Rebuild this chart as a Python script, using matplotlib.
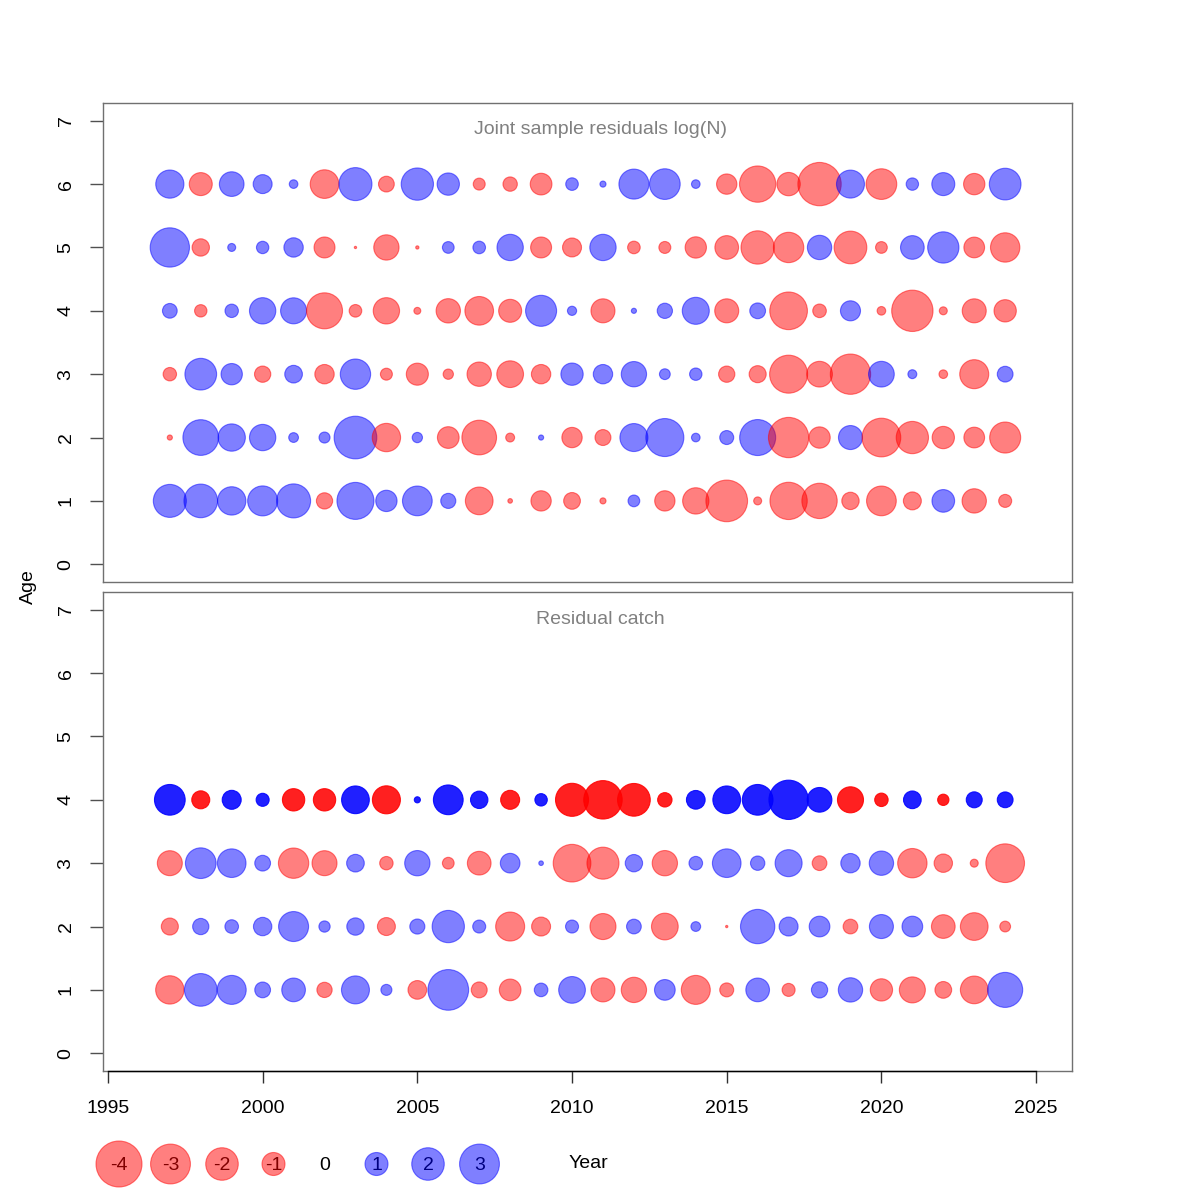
import numpy as np
import matplotlib
matplotlib.use('Agg')
import matplotlib.pyplot as plt
from matplotlib.colors import to_rgba

plt.rcParams['font.family'] = ['Liberation Sans', 'DejaVu Sans']

# Datos
years = list(range(1997, 2025))

# Joint sample residuals log(N), edades 1..6
ages_n = [1, 2, 3, 4, 5, 6]
res_n_age1 = [2.06, 2.14, 1.52, 1.70, 2.19, -0.50, 2.59, 0.86, 1.67, 0.43, -1.45, -0.04, -0.78, -0.53,
              -0.07, 0.26, -0.78, -1.31, -3.28, -0.12, -2.63, -2.36, -0.57, -1.67, -0.61, 0.97, -1.12, -0.32]
res_n_age2 = [-0.05, 2.41, 1.41, 1.31, 0.18, 0.23, 3.44, -1.52, 0.20, -0.89, -2.27, -0.15, 0.05, -0.78,
              -0.48, 1.48, 2.73, 0.14, 0.37, 2.45, -3.07, -0.86, 1.09, -2.83, -1.97, -0.94, -0.81, -1.82]
res_n_age3 = [-0.34, 1.90, 0.86, -0.50, 0.59, -0.71, 1.74, -0.27, -0.92, -0.20, -1.12, -1.35, -0.71, 0.94,
              0.71, 1.21, 0.22, 0.29, -0.50, -0.55, -2.73, -1.25, -3.07, 1.25, 0.15, -0.14, -1.59, 0.47]
res_n_age4 = [0.41, -0.29, 0.34, 1.31, 1.28, -2.45, -0.30, -1.31, -0.09, -1.12, -1.55, -1.00, 1.82, 0.16,
              -1.09, 0.05, 0.44, 1.38, -1.09, 0.47, -2.68, -0.35, 0.76, -0.14, -3.23, -0.12, -1.09, -0.94]
res_n_age5 = [2.92, -0.57, 0.12, 0.29, 0.71, -0.83, -0.01, -1.21, -0.02, 0.26, 0.30, 1.31, -0.83, -0.68,
              1.31, -0.30, -0.27, -0.86, -1.06, -2.10, -1.74, 1.12, -2.02, -0.26, 1.06, 1.85, -0.81, -1.63]
res_n_age6 = [1.50, -1.00, 1.15, 0.68, 0.14, -1.55, 2.06, -0.47, 1.97, 0.94, -0.27, -0.39, -0.89, 0.30,
              0.07, 1.70, 1.78, 0.14, -0.78, -2.49, -1.03, -3.55, 1.48, -1.78, 0.29, 1.00, -0.86, 1.90]

# Residual catch, edades 1..4
ages_c = [1, 2, 3, 4]
res_c_age1 = [-1.52, 2.02, 1.59, 0.47, 1.06, -0.44, 1.48, 0.23, -0.66, 3.13, -0.48, -0.89, 0.35, 1.35,
              -1.09, -1.21, 0.81, -1.59, -0.37, 1.06, -0.32, 0.50, 1.12, -0.94, -1.28, -0.53, -1.45, 2.32]
res_c_age2 = [-0.55, 0.50, 0.35, 0.64, 1.70, 0.24, 0.57, -0.61, 0.43, 1.97, 0.32, -1.59, -0.68, 0.32,
              -1.28, 0.41, -1.35, 0.18, -0.01, 2.23, 0.68, 0.81, -0.41, 1.09, 0.81, -1.06, -1.45, -0.22]
res_c_age3 = [-1.18, 1.78, 1.55, 0.47, -1.74, -1.18, 0.59, -0.34, 1.21, -0.26, -1.06, 0.73, 0.04, -2.68,
              -1.94, 0.57, -1.21, 0.35, 1.55, 0.39, 1.38, -0.41, 0.71, 1.12, -1.63, -0.64, -0.12, -2.83]
res_c_age4 = [1.78, -0.61, 0.68, 0.32, -0.94, -0.94, 1.45, -1.48, 0.07, 1.67, 0.57, -0.68, 0.29, -2.06,
              -2.79, -2.02, -0.39, 0.66, 1.45, 1.78, 2.92, 1.15, -1.28, -0.34, 0.59, -0.24, 0.48, 0.47]

legend_vals = [-4, -3, -2, -1, 0, 1, 2, 3]

ESCALA = 274  # area (pt^2) por unidad de residuo


def colores(vals, alpha):
    return [to_rgba('red' if v < 0 else 'blue', alpha) for v in vals]


def burbujas(ax, ages, filas, alphas):
    for age, vals, a in zip(ages, filas, alphas):
        vals = np.array(vals)
        cols = colores(vals, a)
        ax.scatter(years, [age] * len(years), s=ESCALA * np.abs(vals),
                   c=cols, edgecolors=cols, linewidths=0.8, zorder=3)


def preparar_ejes(ax):
    ax.set_xlim(1994.84, 2026.16)
    ax.set_ylim(-0.28, 7.28)
    for sp in ax.spines.values():
        sp.set_color('#707070')
        sp.set_linewidth(1)
    ax.set_yticks(range(8))
    ax.tick_params(axis='y', length=9.5, width=1, color='#505050', labelsize=14, pad=11,
                   labelrotation=90)
    for lab in ax.get_yticklabels():
        lab.set_va('center')


fig = plt.figure(figsize=(12, 12), dpi=100)
ax1 = fig.add_axes([103 / 1200, 1 - 582 / 1200, 969 / 1200, 479 / 1200])
ax2 = fig.add_axes([103 / 1200, 1 - 1071 / 1200, 969 / 1200, 479 / 1200])

preparar_ejes(ax1)
preparar_ejes(ax2)

burbujas(ax1, ages_n, [res_n_age1, res_n_age2, res_n_age3, res_n_age4, res_n_age5, res_n_age6],
         [0.5] * 6)
burbujas(ax2, ages_c, [res_c_age1, res_c_age2, res_c_age3, res_c_age4], [0.5, 0.5, 0.5, 0.875])

ax1.set_xticks([])
ax2.set_xticks(range(1995, 2030, 5))
ax2.tick_params(axis='x', length=8.6, width=1, color='#303030', labelsize=14, pad=12)
ax2.plot([1995, 2025], [-0.28, -0.28], color='black', lw=1, clip_on=False, zorder=5)

fig.text(0.5, 1 - 130 / 1200, 'Joint sample residuals log(N)', color='#808080',
         ha='center', va='center', fontsize=14)
fig.text(0.5, 1 - 619 / 1200, 'Residual catch', color='#808080',
         ha='center', va='center', fontsize=14)
fig.text(28 / 1200, 1 - 587 / 1200, 'Age', rotation=90, ha='center', va='center', fontsize=14)
fig.text(588 / 1200, 1 - 1164 / 1200, 'Year', ha='center', va='center', fontsize=14)

# Leyenda de tamaños
leg = fig.add_axes([0, 0, 1, 1])
leg.set_xlim(0, 1200)
leg.set_ylim(1200, 0)
leg.axis('off')
lx = [119 + 51.5 * i for i in range(len(legend_vals))]
lv = np.array(legend_vals)
lc = colores(lv, 0.5)
leg.scatter(lx, [1164] * len(lx), s=ESCALA * np.abs(lv), c=lc, edgecolors=lc, linewidths=0.8)
for x, v in zip(lx, legend_vals):
    tc = '#800000' if v < 0 else ('#000080' if v > 0 else 'black')
    leg.text(x, 1166, str(v), ha='center', va='center', fontsize=14, color=tc)

fig.savefig('out.png', dpi=100)
